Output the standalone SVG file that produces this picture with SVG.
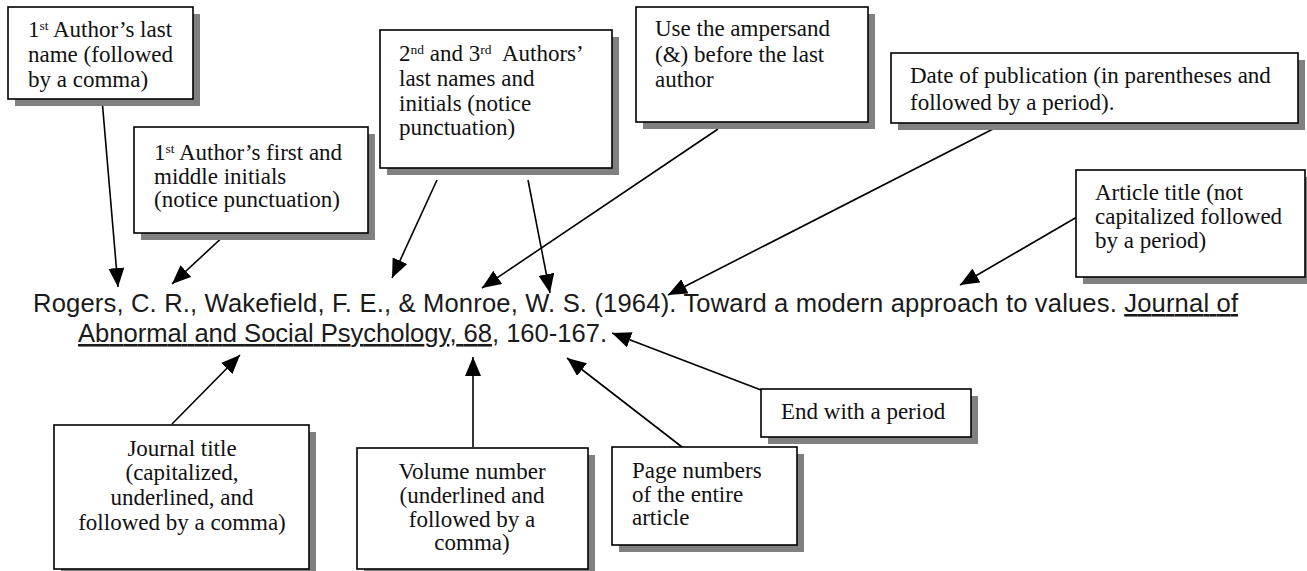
<svg xmlns="http://www.w3.org/2000/svg" width="1307" height="571" viewBox="0 0 1307 571">
<style>
.shadow{fill:#808080}
.box{fill:#ffffff;stroke:#000000;stroke-width:1.6}
.lbl{font-family:"Liberation Serif","Times New Roman",serif;font-size:23px;fill:#111111}
.mid{text-anchor:middle}
.sup{font-size:13.5px}
.cite{font-family:"Liberation Sans",Arial,sans-serif;font-size:25.6px;fill:#1a1a1a}
.conn line{stroke:#000000;stroke-width:1.6;marker-end:url(#arr)}
</style>
<defs>
<marker id="arr" viewBox="0 0 19 16" refX="19" refY="8" markerWidth="19" markerHeight="16" orient="auto" markerUnits="userSpaceOnUse">
<path d="M0,0 L19,8 L0,16 z" fill="#000000"/>
</marker>
</defs>
<rect width="1307" height="571" fill="#ffffff"/>

<g id="citation">
<text class="cite" x="33" y="312" textLength="1205" lengthAdjust="spacing">Rogers, C. R., Wakefield, F. E., &amp; Monroe, W. S. (1964). Toward a modern approach to values. <tspan text-decoration="underline">Journal of</tspan></text>
<text class="cite" x="78" y="342" textLength="529" lengthAdjust="spacing"><tspan text-decoration="underline">Abnormal and Social Psychology, 68</tspan>, 160-167.</text>
</g>

<g id="connectors" class="conn">
<line x1="102" y1="99" x2="118" y2="287"/>
<line x1="227" y1="233" x2="172" y2="284"/>
<line x1="437" y1="180" x2="392" y2="278"/>
<line x1="528" y1="180" x2="550" y2="293"/>
<line x1="718" y1="129" x2="482" y2="288"/>
<line x1="995" y1="128" x2="668" y2="295"/>
<line x1="1077" y1="217" x2="960" y2="285"/>
<line x1="172" y1="424" x2="240" y2="355"/>
<line x1="473" y1="447" x2="473" y2="357"/>
<line x1="682" y1="447" x2="567" y2="358"/>
<line x1="761" y1="390" x2="612" y2="333"/>
</g>

<g id="n-last-name">
<rect class="shadow" x="15" y="14" width="185" height="92"/>
<rect class="box" x="8" y="7" width="185" height="92"/>
<text class="lbl" x="28" y="37">1<tspan class="sup" dy="-7">st</tspan><tspan dy="7"> Author’s last</tspan></text>
<text class="lbl" x="28" y="62">name (followed</text>
<text class="lbl" x="28" y="87">by a comma)</text>
</g>

<g id="n-initials">
<rect class="shadow" x="141" y="134" width="234" height="106"/>
<rect class="box" x="134" y="127" width="234" height="106"/>
<text class="lbl" x="154" y="160">1<tspan class="sup" dy="-7">st</tspan><tspan dy="7"> Author’s first and</tspan></text>
<text class="lbl" x="154" y="184">middle initials</text>
<text class="lbl" x="154" y="207">(notice punctuation)</text>
</g>

<g id="n-coauthors">
<rect class="shadow" x="387" y="37" width="232" height="138"/>
<rect class="box" x="380" y="30" width="232" height="138"/>
<text class="lbl" x="399" y="61">2<tspan class="sup" dy="-7">nd</tspan><tspan dy="7"> and 3</tspan><tspan class="sup" dy="-7">rd</tspan><tspan dy="7" dx="6"> Authors’</tspan></text>
<text class="lbl" x="399" y="86">last names and</text>
<text class="lbl" x="399" y="111">initials (notice</text>
<text class="lbl" x="399" y="135">punctuation)</text>
</g>

<g id="n-ampersand">
<rect class="shadow" x="643" y="14" width="232" height="115"/>
<rect class="box" x="636" y="7" width="232" height="115"/>
<text class="lbl" x="655" y="36">Use the ampersand</text>
<text class="lbl" x="655" y="62">(&amp;) before the last</text>
<text class="lbl" x="655" y="87">author</text>
</g>

<g id="n-date">
<rect class="shadow" x="898" y="60" width="407" height="70"/>
<rect class="box" x="891" y="53" width="407" height="70"/>
<text class="lbl" x="910" y="83">Date of publication (in parentheses and</text>
<text class="lbl" x="910" y="110">followed by a period).</text>
</g>

<g id="n-article">
<rect class="shadow" x="1083" y="177" width="229" height="107"/>
<rect class="box" x="1076" y="170" width="229" height="107"/>
<text class="lbl" x="1095" y="200">Article title (not</text>
<text class="lbl" x="1095" y="224">capitalized followed</text>
<text class="lbl" x="1095" y="248">by a period)</text>
</g>

<g id="n-journal">
<rect class="shadow" x="61" y="432" width="255" height="144"/>
<rect class="box" x="54" y="425" width="255" height="144"/>
<text class="lbl mid" x="182" y="456">Journal title</text>
<text class="lbl mid" x="182" y="480">(capitalized,</text>
<text class="lbl mid" x="182" y="505">underlined, and</text>
<text class="lbl mid" x="182" y="530">followed by a comma)</text>
</g>

<g id="n-volume">
<rect class="shadow" x="364" y="455" width="231" height="121"/>
<rect class="box" x="357" y="448" width="231" height="121"/>
<text class="lbl mid" x="472" y="479">Volume number</text>
<text class="lbl mid" x="472" y="503">(underlined and</text>
<text class="lbl mid" x="472" y="527">followed by a</text>
<text class="lbl mid" x="472" y="550">comma)</text>
</g>

<g id="n-pages">
<rect class="shadow" x="619" y="454" width="185" height="98"/>
<rect class="box" x="612" y="447" width="185" height="98"/>
<text class="lbl" x="632" y="478">Page numbers</text>
<text class="lbl" x="632" y="502">of the entire</text>
<text class="lbl" x="632" y="525">article</text>
</g>

<g id="n-end">
<rect class="shadow" x="768" y="396" width="210" height="48"/>
<rect class="box" x="761" y="389" width="210" height="48"/>
<text class="lbl" x="781" y="419">End with a period</text>
</g>
</svg>
